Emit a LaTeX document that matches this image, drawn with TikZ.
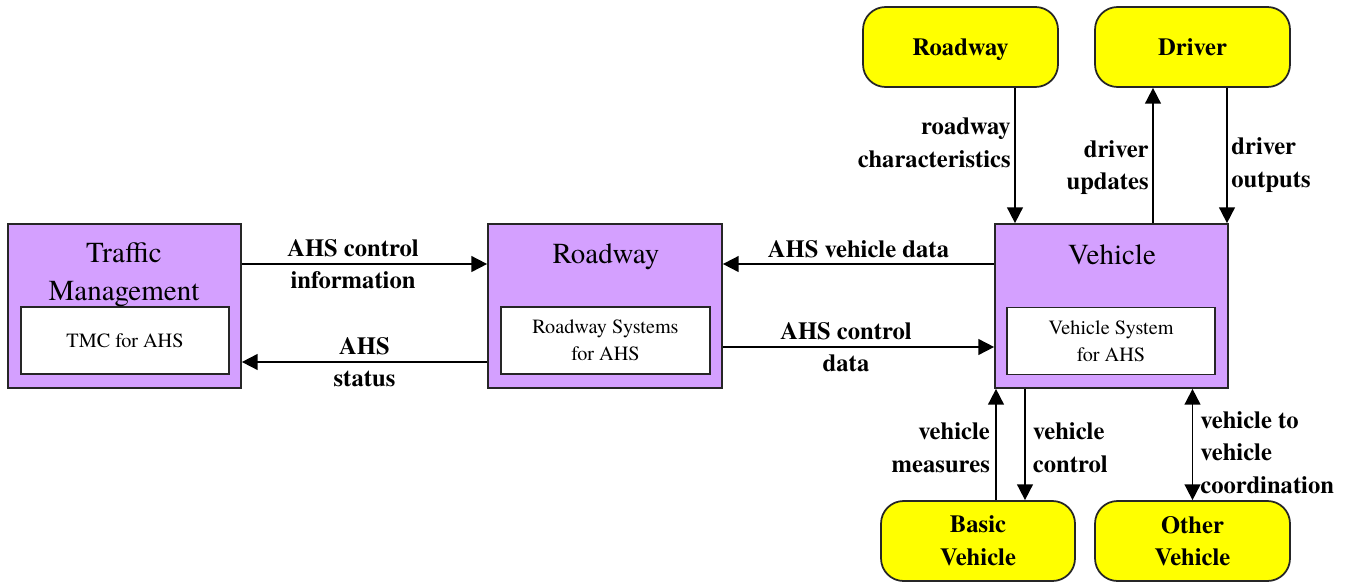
\documentclass[tikz,border=0pt]{standalone}
\usepackage{fontspec}
\setmainfont{texgyretermes}[Extension=.otf, UprightFont=*-regular, BoldFont=*-bold, ItalicFont=*-italic, BoldItalicFont=*-bolditalic]
\usepackage{tikz}
\usetikzlibrary{arrows.meta,positioning}
\definecolor{sysfill}{RGB}{212,160,255}
\definecolor{extfill}{RGB}{255,255,0}

\begin{document}
\begin{tikzpicture}[x=0.02cm, y=-0.02cm,
    sysbox/.style={draw=black!85, line width=1pt, fill=sysfill, minimum height=3.28cm, inner sep=0pt},
    subbox/.style={draw=black!85, line width=1pt, fill=white, minimum height=1.34cm, inner sep=0pt,
      align=center, font=\fontsize{11.5}{15.5}\selectfont},
    systitle/.style={align=center, font=\fontsize{16.5}{21.5}\selectfont},
    extbox/.style={draw=black!85, line width=1pt, fill=extfill, rounded corners=0.45cm,
      minimum width=3.9cm, minimum height=1.6cm, inner sep=0pt, align=center,
      font=\bfseries\fontsize{14}{18.5}\selectfont},
    flow/.style={line width=1pt, -{Triangle[length=9pt,width=9pt]}},
    flowlbl/.style={align=center, inner sep=2pt, font=\bfseries\fontsize{14}{18.5}\selectfont}]
    \useasboundingbox (0,0) rectangle (1351,581);

    % central systems
    \node[sysbox, minimum width=4.66cm] (tm) at (124.5,306) {};
    \node[subbox, minimum width=4.16cm] (tmc) at (125,340.5) {TMC for AHS};
    \node[systitle] (tmt) at (124,275) {Traffic\\Management};

    \node[sysbox, minimum width=4.68cm] (rd) at (605,306) {};
    \node[subbox, minimum width=4.18cm] (rds) at (605.5,340.5) {Roadway Systems\\for AHS};
    \node[systitle] (rdt) at (606,257) {Roadway};

    \node[sysbox, minimum width=4.66cm] (vh) at (1111.5,306) {};
    \node[subbox, minimum width=4.16cm] (vhs) at (1111,341) {Vehicle System\\for AHS};
    \node[systitle] (vht) at (1112,255) {Vehicle};

    % terminators
    \node[extbox, text depth=0pt] (road) at (960.5,47) {Roadway};
    \node[extbox] (drv) at (1192.5,47) {Driver};
    \node[extbox, minimum width=3.88cm] (bas) at (978,541) {Basic\\Vehicle};
    \node[extbox] (oth) at (1192.5,541) {Other\\Vehicle};

    % horizontal flows
    \draw[flow] ([yshift=0.84cm]tm.east) -- node[flowlbl, xshift=-0.23cm] {AHS control\\information} ([yshift=0.84cm]rd.west);
    \draw[flow] ([yshift=-1.12cm]rd.west) -- node[flowlbl] {AHS\\status} ([yshift=-1.12cm]tm.east);
    \draw[flow] ([yshift=0.84cm]vh.west) -- node[flowlbl, above, inner sep=3pt] {AHS vehicle data} ([yshift=0.84cm]rd.east);
    \draw[flow] ([yshift=-0.82cm]rd.east) -- node[flowlbl, xshift=-0.25cm] {AHS control\\data} ([yshift=-0.82cm]vh.west);

    % vertical flows
    \draw[flow] ([xshift=1.09cm]road.south) -- node[flowlbl, pos=0.405, anchor=east, align=right] {roadway\\characteristics} ([xshift=1.09cm]road.south |- vh.north);
    \draw[flow] ([xshift=0.83cm]vh.north) -- node[flowlbl, pos=0.41, anchor=east, align=right] {driver\\updates} ([xshift=0.83cm]vh.north |- drv.south);
    \draw[flow] ([xshift=0.69cm]drv.south) -- node[flowlbl, pos=0.57, anchor=west, align=left] {driver\\outputs} ([xshift=0.69cm]drv.south |- vh.north);
    \draw[flow] ([xshift=0.36cm]bas.north) -- node[flowlbl, pos=0.47, anchor=east, align=right, inner sep=3pt] {vehicle\\measures} ([xshift=0.36cm]bas.north |- vh.south);
    \draw[flow] ([xshift=0.94cm]bas.north |- vh.south) -- node[flowlbl, pos=0.53, anchor=west, align=left, inner sep=4pt] {vehicle\\control} ([xshift=0.94cm]bas.north);
    \draw[flow, {Triangle[length=9pt,width=9pt]}-{Triangle[length=9pt,width=9pt]}] (oth.north) -- node[flowlbl, pos=0.43, anchor=west, align=left, inner sep=4pt] {vehicle to\\vehicle\\coordination} (oth.north |- vh.south);
\end{tikzpicture}
\end{document}
